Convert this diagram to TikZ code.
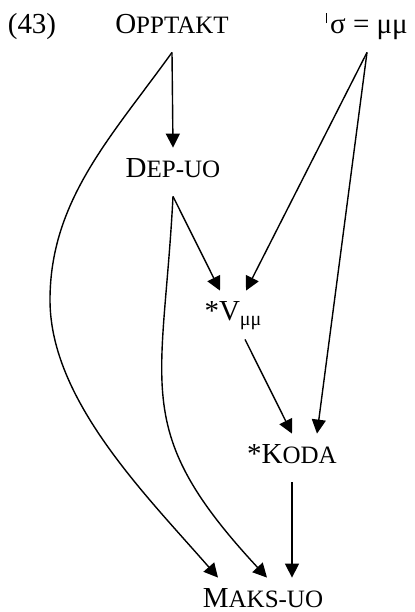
\documentclass[tikz,border=0pt]{standalone}
\usepackage{fontspec}
\setmainfont{Liberation Serif}
\usetikzlibrary{arrows.meta,positioning,calc}

\newcommand{\smc}[1]{{\fontsize{12.5}{14}\selectfont #1}}

\begin{document}
\begin{tikzpicture}[
    x=0.5pt, y=-0.5pt,
    font=\fontsize{14.5}{17}\selectfont,
    constraint/.style={
        inner sep=0pt,
        anchor=base,
        text height=14.5pt,
        text depth=9.5pt
    },
    line/.style={draw, line width=0.7pt, -{Triangle[length=7pt,width=7pt]}}
]
\useasboundingbox (0,0) rectangle (414,612);

% Example number
\node [inner sep=0pt, anchor=base] (num) at (32,33) {(43)};

% Constraints
\node [constraint] (opptakt) at (172,33) {O\smc{PPTAKT}};
\node [constraint] (sigma) at (367,33) {\rule[5pt]{0.5pt}{5pt}\hspace{1.5pt}σ = μμ};
\node [constraint] (dep) at (173,177) {D\smc{EP-UO}};
\node [constraint] (vmm) at (233,320) {*V\raisebox{-2.5pt}{\fontsize{10}{11}\selectfont μμ}};
\node [constraint] (koda) at (292,463) {*K\smc{ODA}};
\node [constraint] (maks) at (263,607) {M\smc{AKS-UO}};

% Rankings
\draw [line] (opptakt.south) -- (dep.north);
\draw [line] (opptakt.south) .. controls (112,136) and (50,200) .. (50,300)
    .. controls (50,400) and (146,495) .. ([xshift=-22.5pt]maks.north);
\draw [line] (sigma.south) -- ([xshift=6.5pt]vmm.north);
\draw [line] (sigma.south) -- ([xshift=12.5pt]koda.north);
\draw [line] (dep.south) -- ([xshift=-6.5pt]vmm.north);
\draw [line] (dep.south) .. controls (163,390) and (130,430) .. ([xshift=2pt]maks.north);
\draw [line] ([xshift=6pt]vmm.south) -- (koda.north);
\draw [line] (koda.south) -- (koda.south |- maks.north);

\end{tikzpicture}
\end{document}
